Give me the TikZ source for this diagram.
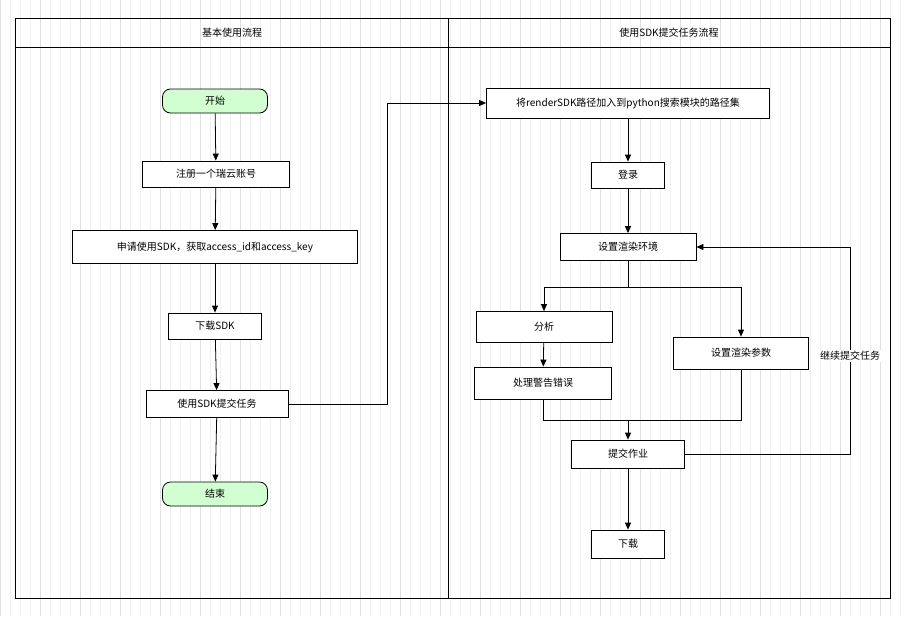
\documentclass[tikz,border=0pt]{standalone}
\usepackage{fontspec}
\setmainfont{Noto Sans CJK SC}
\usetikzlibrary{arrows.meta,positioning}

\begin{document}
\begin{tikzpicture}[x=1pt,y=-1pt,
  font=\fontsize{10}{12}\selectfont,
  box/.style={draw,thick,fill=white,minimum height=26pt,inner sep=2pt},
  term/.style={box,rounded corners=8pt,fill=green!18,minimum width=105pt,minimum height=24pt},
  flow/.style={thick,-{Triangle[length=7pt,width=6pt]}},
  seg/.style={thick}]
\useasboundingbox (0,0) rectangle (907,616);
\fill[white] (0,0) rectangle (907,616);
% grid
\draw[gray!12] (0,0) grid[step=10] (907,616);
\draw[gray!25] (0,0) grid[step=40] (907,616);
% lanes
\draw[thick] (15,18) rectangle (890,598);
\draw[thick] (15,47) -- (890,47);
\draw[thick] (448,18) -- (448,598);
\node (hl) at (232,33) {基本使用流程};
\node (hr) at (669,33) {使用SDK提交任务流程};

% left lane
\node[term] (start) at (215,101) {开始};
\node[box,minimum width=147pt] (reg) at (216,174) {注册一个瑞云账号};
\node[box,minimum width=285pt,minimum height=33pt] (apply) at (215,247) {申请使用SDK，获取access\_id和access\_key};
\node[box,minimum width=93pt] (dl) at (215,326) {下载SDK};
\node[box,minimum width=142pt,minimum height=27pt] (use) at (217,404) {使用SDK提交任务};
\node[term] (end) at (215,494) {结束};

% right lane
\node[box,minimum width=283pt,minimum height=30pt] (path) at (628,103) {将renderSDK路径加入到python搜索模块的路径集};
\node[box,minimum width=73pt] (login) at (628,175) {登录};
\node[box,minimum width=136pt,minimum height=27pt] (env) at (628,247) {设置渲染环境};
\node[box,minimum width=136pt,minimum height=31pt] (ana) at (544,327) {分析};
\node[box,minimum width=137pt,minimum height=32pt] (warn) at (543,383) {处理警告错误};
\node[box,minimum width=135pt,minimum height=32pt] (param) at (741,353) {设置渲染参数};
\node[box,minimum width=113pt,minimum height=28pt] (job) at (628,454) {提交作业};
\node[box,minimum width=73pt,minimum height=28pt] (down) at (628,544) {下载};
\coordinate (loop) at (850,356);
\coordinate (merge) at (628,420);

\draw[flow] (start) -- (reg);
\draw[flow] (reg) -- (apply);
\draw[flow] (apply) -- (dl);
\draw[flow] (dl) -- (use);
\draw[flow] (use) -- (end);
\draw[flow] (use.east) -- (387,404) -- (387,103) -- (path.west);
\draw[flow] (path) -- (login);
\draw[flow] (login) -- (env);
\draw[flow] (env.south) -- (628,287) -| (ana.north);
\draw[flow] (env.south) -- (628,287) -| (param.north);
\draw[flow] (ana) -- (warn);
\draw[seg] (warn.south) |- (merge);
\draw[seg] (param.south) |- (merge);
\draw[flow] (merge) -- (job);
\draw[flow] (job) -- (down);
\draw[flow] (job.east) -| (loop) |- (env.east);
\node[fill=white,inner sep=1pt] (cont) at (loop) {继续提交任务};
\end{tikzpicture}
\end{document}
